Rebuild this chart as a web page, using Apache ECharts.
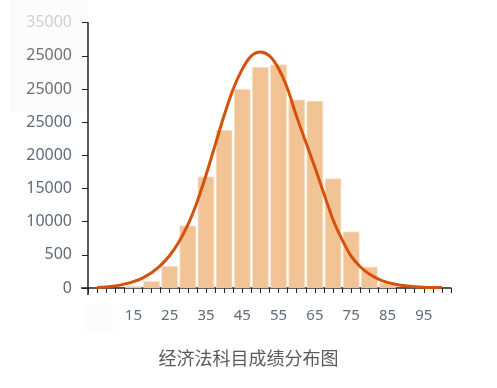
<!DOCTYPE html>
<html>
<head>
<meta charset="utf-8">
<script src="https://cdn.jsdelivr.net/npm/echarts@6/dist/echarts.min.js"></script>
<style>
html,body{margin:0;padding:0;background:#fff;}
#c{width:497px;height:388px;}
</style>
</head>
<body>
<div id="c"></div>
<script>
// Histogram bins (score centres) and counts
const binCenters = [15, 20, 25, 30, 35, 40, 45, 50, 55, 60, 65, 70, 75, 80, 85];
const binCounts  = [300, 1050, 3300, 9400, 16800, 23800, 30000, 33300, 33700, 28400, 28200, 16500, 8500, 3200, 800];

// Fitted curve
const curveX = [5, 7.5, 10, 12.5, 15, 17.5, 20, 22.5, 25, 27.5, 30, 32.5, 35, 37.5, 40, 42.5, 45, 47.5, 50,
                52.5, 55, 57.5, 60, 62.5, 65, 67.5, 70, 72.5, 75, 77.5, 80, 82.5, 85, 87.5, 90, 92.5, 95, 97.5, 100];
const curveY = [60, 150, 320, 580, 950, 1500, 2300, 3400, 4900, 6900, 9500, 12900, 17000, 21500, 26000, 30000, 33000, 35000, 35600,
                35000, 33100, 30000, 25800, 22000, 18200, 14200, 10300, 7300, 4800, 3200, 2100, 1350, 850, 530, 330, 200, 130, 90, 70];

// Tick labels as printed
const yTickLabels = ['0', '500', '10000', '15000', '20000', '25000', '25000', '25000', '35000'];
const xTickLabels = [15, 25, 35, 45, 55, 65, 75, 85, 95];
const titleText = '经济法科目成绩分布图';

const chart = echarts.init(document.getElementById('c'), null, {renderer: 'canvas'});
const yColors = ['#5f6b7a','#5f6b7a','#5f6b7a','#5f6b7a','#5f6b7a','#5f6b7a','#707070','#707070','#d0d0d0'];

chart.setOption({
  animation: false,
  backgroundColor: '#fff',
  title: {
    text: titleText,
    left: 'center',
    top: 344,
    textStyle: {fontFamily: 'Noto Sans CJK SC', fontSize: 18, fontWeight: 'normal', color: '#5a5a5a'}
  },
  graphic: [
    {type: 'rect', z: -10, shape: {x: 10, y: 0, width: 78, height: 112}, style: {fill: '#fcfcfc'}},
    {type: 'rect', z: -10, shape: {x: 85, y: 304, width: 28, height: 27}, style: {fill: '#fbfbfb'}},
    {type: 'line', z: 10, shape: {x1: 81, y1: 288, x2: 88, y2: 288}, style: {stroke: '#222', lineWidth: 1.5}},
    {type: 'line', z: 10, shape: {x1: 88, y1: 288, x2: 88, y2: 295}, style: {stroke: '#222', lineWidth: 1.5}}
  ],
  grid: {left: 88, right: 46, top: 22.7, bottom: 100, containLabel: false},
  xAxis: {
    type: 'value',
    min: 2.5, max: 102.5, interval: 2.5,
    splitLine: {show: false},
    axisLine: {show: true, lineStyle: {color: '#222', width: 1.5}},
    axisTick: {show: true, length: 5, inside: false, lineStyle: {color: '#222', width: 1}},
    axisLabel: {
      margin: 20,
      fontFamily: 'Noto Sans', fontSize: 15, color: '#5f6b7a',
      showMinLabel: true, showMaxLabel: true,
      formatter: v => xTickLabels.includes(Math.round(v * 10) / 10) ? String(v) : ''
    }
  },
  yAxis: {
    type: 'value',
    min: 0, max: 40000, interval: 5000,
    splitLine: {show: false},
    axisLine: {show: true, lineStyle: {color: '#222', width: 1.5}},
    axisTick: {show: true, length: 6, lineStyle: {color: '#222', width: 1}},
    axisLabel: {
      margin: 16,
      fontFamily: 'Noto Sans', fontSize: 16,
      formatter: v => yTickLabels[Math.round(v / 5000)] || '',
      color: (v) => yColors[Math.round(v / 5000)] || '#5f6b7a'
    }
  },
  series: [
    {
      type: 'bar',
      data: binCenters.map((c, i) => [c, binCounts[i]]),
      barWidth: 16.5,
      itemStyle: {color: '#f2c394', borderColor: '#f8dcc0', borderWidth: 0.8},
      z: 1
    },
    {
      type: 'line',
      data: curveX.map((x, i) => [x, curveY[i]]),
      smooth: 0.3,
      showSymbol: false,
      lineStyle: {color: '#d4520a', width: 3},
      z: 3
    }
  ]
});
</script>
</body>
</html>
